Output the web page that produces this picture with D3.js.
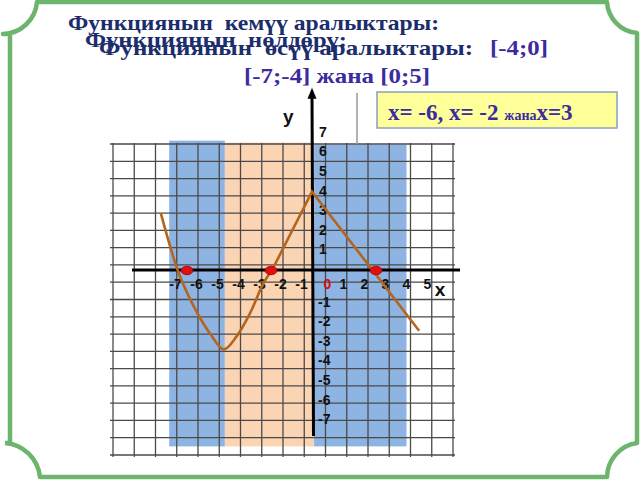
<!DOCTYPE html>
<html>
<head>
<meta charset="utf-8">
<script src="https://cdn.jsdelivr.net/npm/d3@7/dist/d3.min.js"></script>
<style>
  html, body { margin: 0; padding: 0; background: #ffffff; }
  svg { display: block; }
</style>
</head>
<body>
<svg id="chart" width="640" height="480"></svg>
<script>
// ---------- data ----------
const xTickValues = [-7, -6, -5, -4, -3, -2, -1, 0, 1, 2, 3, 4, 5];
const yTickPositive = [1, 2, 3, 4, 5, 6, 7];
const yTickNegative = [-1, -2, -3, -4, -5, -6, -7];

// smooth part of the curve (x, y in axis units)
const smoothX = [-7.2, -6.4, -5.8, -5.3, -4.85, -4.2, -3.6, -2.95, -2.3, -1.9];
const smoothY = [2.9, 0.0, -1.5, -2.5, -3.25, -4.05, -3.4, -2.2, -0.65, 0.0];
// straight part of the curve
const lineX = [-1.9, 0, 5.1];
const lineY = [0.0, 4.0, -3.1];

// zeros of the function
const zeroX = [-6, -2, 3];

// shaded intervals
const bandStart = [-6.8, -4.15, 0.1];
const bandEnd = [-4.15, 0.1, 4.5];
const bandTop = [6.6, 6.5, 6.4];
const bandBottom = [-9.0, -9.0, -9.0];
const bandKind = ["dec", "inc", "dec"];

// texts
const titleLines = [
  "Функциянын  кемүү аралыктары:",
  "Функциянын  нөлдөрү:",
  "Функциянын  өсүү аралыктары:"
];
const intervalInc = "[-4;0]";
const intervalDec = "[-7;-4] жана [0;5]";
const zerosText = ["x= -6, x= -2 ", "жана", "x=3"];

// ---------- drawing ----------
const svg = d3.select("#chart");
const navy = "#1c2d6c";
const indigo = "#3b2b9e";
const serif = "'Liberation Serif', 'Times New Roman', serif";
const sans = "'Liberation Sans', Arial, sans-serif";
const fmt = d => String(d); // plain hyphen-minus like the reference

const x = d3.scaleLinear().domain([-8, 7]).range([144, 459]);   // 21 px / unit, origin at 312
const y = d3.scaleLinear().domain([-8, 9]).range([426.8, 93.6]); // 19.6 px / unit, origin at 270

// grid (slide's squared paper, independent of axis units)
const gx = d3.scaleLinear().domain([0, 16]).range([113, 453]);
const gy = d3.scaleLinear().domain([0, 18]).range([144, 455]);

// frame
svg.append("path")
  .attr("d", "M5,443 L10,443 L10,34 L3,34 A35,35 0 0 0 37,2 L607,2 A33,33 0 0 0 637,33 L637,443 A35,35 0 0 0 607,477 L40,477 A38,38 0 0 0 5,443")
  .attr("fill", "none")
  .attr("stroke", "#6db56d")
  .attr("stroke-width", 4.5)
  .attr("stroke-linejoin", "round");

// bands
const bandColor = { dec: "#8eb4e3", inc: "#fbd4b4" };
svg.append("g").selectAll("rect")
  .data(bandStart.map((s, i) => ({ s, e: bandEnd[i], t: bandTop[i], b: bandBottom[i], k: bandKind[i] })))
  .join("rect")
  .attr("x", d => x(d.s))
  .attr("width", d => x(d.e) - x(d.s))
  .attr("y", d => y(d.t))
  .attr("height", d => y(d.b) - y(d.t))
  .attr("fill", d => bandColor[d.k]);

// grid lines
const grid = svg.append("g").attr("stroke", "#4a4a4a").attr("stroke-width", 1.3);
grid.selectAll("line.v").data(d3.range(0, 17)).join("line")
  .attr("class", "v")
  .attr("x1", d => gx(d)).attr("x2", d => gx(d))
  .attr("y1", gy(0) - 1).attr("y2", gy(18) + 2);
grid.selectAll("line.h").data(d3.range(0, 19)).join("line")
  .attr("class", "h")
  .attr("x1", gx(0) - 3).attr("x2", gx(16) + 2)
  .attr("y1", d => gy(d)).attr("y2", d => gy(d));

// stray grey line above grid
svg.append("line")
  .attr("x1", 357).attr("x2", 357).attr("y1", 93).attr("y2", 144)
  .attr("stroke", "#9a9a9a").attr("stroke-width", 1.5);

// axes lines
svg.append("line")
  .attr("x1", x(-8.57)).attr("x2", x(7.05))
  .attr("y1", y(0)).attr("y2", y(0))
  .attr("stroke", "#000").attr("stroke-width", 3);
svg.append("line")
  .attr("x1", x(0)).attr("x2", x(0) + 1.5)
  .attr("y1", y(8.9)).attr("y2", y(-8.47))
  .attr("stroke", "#000").attr("stroke-width", 3);
svg.append("path")
  .attr("d", `M${x(0)},${y(9.3)} L${x(0) - 4.5},${y(9.3) + 11} L${x(0) + 4.5},${y(9.3) + 11} Z`)
  .attr("fill", "#000");

// tick labels x
const xAxis = d3.axisBottom(x).tickValues(xTickValues).tickSize(0).tickPadding(9).tickFormat(fmt);
const gxAxis = svg.append("g").attr("transform", `translate(10,${y(0)})`).call(xAxis);
gxAxis.select(".domain").remove();
gxAxis.selectAll("text")
  .attr("font-family", sans).attr("font-size", 14).attr("font-weight", "bold")
  .attr("fill", d => d === 0 ? "#d01010" : "#111")
  .attr("dx", d => d === 0 ? 5 : 0);

// tick labels y
const yAxisPos = d3.axisRight(y).tickValues(yTickPositive).tickSize(0).tickPadding(7).tickFormat(fmt);
const gyPos = svg.append("g").attr("transform", `translate(${x(0)},-1)`).call(yAxisPos);
const yAxisNeg = d3.axisRight(y).tickValues(yTickNegative).tickSize(0).tickPadding(6).tickFormat(fmt);
const gyNeg = svg.append("g").attr("transform", `translate(${x(0)},12)`).call(yAxisNeg);
[gyPos, gyNeg].forEach(g => {
  g.select(".domain").remove();
  g.selectAll("text").attr("font-family", sans).attr("font-size", 14).attr("font-weight", "bold").attr("fill", "#111");
});

// axis names
svg.append("text").attr("x", x(0) - 29).attr("y", 123).text("y")
  .attr("font-family", sans).attr("font-size", 19).attr("font-weight", "bold").attr("fill", "#111");
svg.append("text").attr("x", x(5.85)).attr("y", 296).text("x")
  .attr("font-family", sans).attr("font-size", 19).attr("font-weight", "bold").attr("fill", "#111");

// curve
const curveColor = "#b5651d";
const smoothLine = d3.line().x(d => x(d[0])).y(d => y(d[1])).curve(d3.curveCatmullRom.alpha(0.5));
svg.append("path")
  .attr("d", smoothLine(smoothX.map((v, i) => [v, smoothY[i]])))
  .attr("fill", "none").attr("stroke", curveColor).attr("stroke-width", 2.6);
const straightLine = d3.line().x(d => x(d[0])).y(d => y(d[1]));
svg.append("path")
  .attr("d", straightLine(lineX.map((v, i) => [v, lineY[i]])))
  .attr("fill", "none").attr("stroke", curveColor).attr("stroke-width", 2.6).attr("stroke-linejoin", "miter");

// zero points
svg.append("g").selectAll("ellipse").data(zeroX).join("ellipse")
  .attr("cx", d => x(d) + 1).attr("cy", y(0) + 0.5)
  .attr("rx", 6).attr("ry", 4.2)
  .attr("fill", "#e01010").attr("stroke", "#a00000").attr("stroke-width", 0.8);

// titles (overlapping, as on the original slide)
const titlePos = [
  { x: 68, y: 30, len: 371 },
  { x: 85, y: 47, len: 262 },
  { x: 99, y: 55, len: 374 }
];
svg.append("g").selectAll("text").data(titleLines).join("text")
  .attr("x", (d, i) => titlePos[i].x)
  .attr("y", (d, i) => titlePos[i].y)
  .attr("textLength", (d, i) => titlePos[i].len)
  .attr("lengthAdjust", "spacingAndGlyphs")
  .attr("font-family", serif).attr("font-size", 21).attr("font-weight", "bold")
  .attr("fill", navy)
  .style("white-space", "pre")
  .text(d => d);

svg.append("text").attr("x", 490).attr("y", 55).text(intervalInc)
  .attr("textLength", 58).attr("lengthAdjust", "spacingAndGlyphs")
  .attr("font-family", serif).attr("font-size", 21).attr("font-weight", "bold").attr("fill", indigo);
svg.append("text").attr("x", 244).attr("y", 83).text(intervalDec)
  .attr("textLength", 186).attr("lengthAdjust", "spacingAndGlyphs")
  .attr("font-family", serif).attr("font-size", 21).attr("font-weight", "bold").attr("fill", indigo);

// zeros box
svg.append("rect")
  .attr("x", 377).attr("y", 92).attr("width", 240).attr("height", 36)
  .attr("fill", "#ffff99").attr("stroke", "#8aa0c0").attr("stroke-width", 1.5);
const zt = svg.append("text").attr("x", 388).attr("y", 120)
  .attr("font-family", serif).attr("font-weight", "bold").attr("fill", indigo)
  .style("white-space", "pre");
zt.append("tspan").attr("font-size", 23).text(zerosText[0]);
zt.append("tspan").attr("font-size", 14).text(zerosText[1]);
zt.append("tspan").attr("font-size", 23).text(zerosText[2]);
</script>
</body>
</html>
